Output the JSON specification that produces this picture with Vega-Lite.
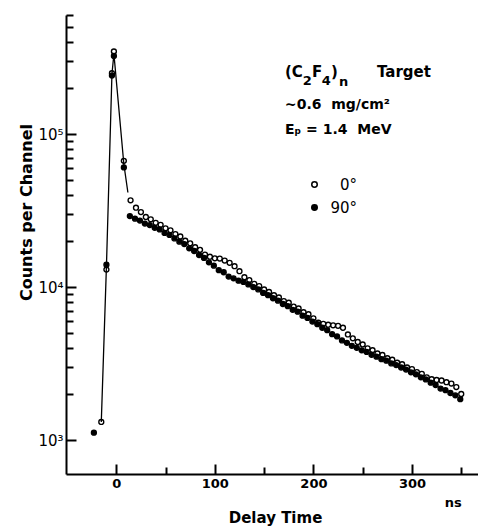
{
  "$schema": "https://vega.github.io/schema/vega-lite/v6.json",
  "width": 412,
  "height": 459,
  "autosize": {"type": "none"},
  "padding": {"left": 66, "top": 15, "right": 0, "bottom": 53},
  "background": "white",
  "config": {"view": {"stroke": null}, "font": "DejaVu Sans"},
  "datasets": {
    "peak": [
      {"t": -15.2, "counts": 1313},
      {"t": -10, "counts": 13500},
      {"t": -4.4, "counts": 245000},
      {"t": -2.4, "counts": 335000},
      {"t": 7.7, "counts": 63500},
      {"t": 11.8, "counts": 41500}
    ],
    "pts": [
      {"t": -15.2, "counts": 1313, "angle": "0°"},
      {"t": -10, "counts": 13000, "angle": "0°"},
      {"t": -4.4, "counts": 250000, "angle": "0°"},
      {"t": -2.4, "counts": 347000, "angle": "0°"},
      {"t": 7.7, "counts": 66800, "angle": "0°"},
      {"t": 14.5, "counts": 36900, "angle": "0°"},
      {"t": 20, "counts": 33000, "angle": "0°"},
      {"t": 25, "counts": 30900, "angle": "0°"},
      {"t": 30, "counts": 28700, "angle": "0°"},
      {"t": 35, "counts": 27700, "angle": "0°"},
      {"t": 40, "counts": 26300, "angle": "0°"},
      {"t": 45, "counts": 25500, "angle": "0°"},
      {"t": 50, "counts": 24200, "angle": "0°"},
      {"t": 55, "counts": 23500, "angle": "0°"},
      {"t": 60, "counts": 22200, "angle": "0°"},
      {"t": 65, "counts": 21400, "angle": "0°"},
      {"t": 70, "counts": 20100, "angle": "0°"},
      {"t": 75, "counts": 19300, "angle": "0°"},
      {"t": 80, "counts": 18200, "angle": "0°"},
      {"t": 85, "counts": 17500, "angle": "0°"},
      {"t": 90, "counts": 16300, "angle": "0°"},
      {"t": 95, "counts": 15800, "angle": "0°"},
      {"t": 100, "counts": 15400, "angle": "0°"},
      {"t": 105, "counts": 15350, "angle": "0°"},
      {"t": 110, "counts": 14900, "angle": "0°"},
      {"t": 115, "counts": 14400, "angle": "0°"},
      {"t": 120, "counts": 13700, "angle": "0°"},
      {"t": 125, "counts": 12700, "angle": "0°"},
      {"t": 130, "counts": 11600, "angle": "0°"},
      {"t": 135, "counts": 11100, "angle": "0°"},
      {"t": 140, "counts": 10500, "angle": "0°"},
      {"t": 145, "counts": 10150, "angle": "0°"},
      {"t": 150, "counts": 9650, "angle": "0°"},
      {"t": 155, "counts": 9300, "angle": "0°"},
      {"t": 160, "counts": 8850, "angle": "0°"},
      {"t": 165, "counts": 8550, "angle": "0°"},
      {"t": 170, "counts": 8100, "angle": "0°"},
      {"t": 175, "counts": 7900, "angle": "0°"},
      {"t": 180, "counts": 7450, "angle": "0°"},
      {"t": 185, "counts": 7250, "angle": "0°"},
      {"t": 190, "counts": 6850, "angle": "0°"},
      {"t": 195, "counts": 6650, "angle": "0°"},
      {"t": 200, "counts": 6250, "angle": "0°"},
      {"t": 205, "counts": 5850, "angle": "0°"},
      {"t": 210, "counts": 5750, "angle": "0°"},
      {"t": 215, "counts": 5680, "angle": "0°"},
      {"t": 220, "counts": 5620, "angle": "0°"},
      {"t": 225, "counts": 5580, "angle": "0°"},
      {"t": 230, "counts": 5420, "angle": "0°"},
      {"t": 235, "counts": 4900, "angle": "0°"},
      {"t": 240, "counts": 4620, "angle": "0°"},
      {"t": 245, "counts": 4380, "angle": "0°"},
      {"t": 250, "counts": 4220, "angle": "0°"},
      {"t": 255, "counts": 3980, "angle": "0°"},
      {"t": 260, "counts": 3870, "angle": "0°"},
      {"t": 265, "counts": 3680, "angle": "0°"},
      {"t": 270, "counts": 3600, "angle": "0°"},
      {"t": 275, "counts": 3430, "angle": "0°"},
      {"t": 280, "counts": 3350, "angle": "0°"},
      {"t": 285, "counts": 3200, "angle": "0°"},
      {"t": 290, "counts": 3130, "angle": "0°"},
      {"t": 295, "counts": 2980, "angle": "0°"},
      {"t": 300, "counts": 2910, "angle": "0°"},
      {"t": 305, "counts": 2780, "angle": "0°"},
      {"t": 310, "counts": 2710, "angle": "0°"},
      {"t": 315, "counts": 2570, "angle": "0°"},
      {"t": 320, "counts": 2500, "angle": "0°"},
      {"t": 325, "counts": 2470, "angle": "0°"},
      {"t": 330, "counts": 2450, "angle": "0°"},
      {"t": 335, "counts": 2390, "angle": "0°"},
      {"t": 340, "counts": 2340, "angle": "0°"},
      {"t": 345, "counts": 2220, "angle": "0°"},
      {"t": 350, "counts": 2000, "angle": "0°"},
      {"t": -22.7, "counts": 1117, "angle": "90°"},
      {"t": -10, "counts": 14000, "angle": "90°"},
      {"t": -4.4, "counts": 241000, "angle": "90°"},
      {"t": -2.4, "counts": 324000, "angle": "90°"},
      {"t": 7.7, "counts": 60500, "angle": "90°"},
      {"t": 13.8, "counts": 29100, "angle": "90°"},
      {"t": 19, "counts": 28000, "angle": "90°"},
      {"t": 24, "counts": 27200, "angle": "90°"},
      {"t": 29, "counts": 26000, "angle": "90°"},
      {"t": 34, "counts": 25400, "angle": "90°"},
      {"t": 39, "counts": 24400, "angle": "90°"},
      {"t": 44, "counts": 23800, "angle": "90°"},
      {"t": 49, "counts": 22600, "angle": "90°"},
      {"t": 54, "counts": 21900, "angle": "90°"},
      {"t": 59, "counts": 20800, "angle": "90°"},
      {"t": 64, "counts": 19800, "angle": "90°"},
      {"t": 69, "counts": 19100, "angle": "90°"},
      {"t": 74, "counts": 17900, "angle": "90°"},
      {"t": 79, "counts": 17200, "angle": "90°"},
      {"t": 84, "counts": 16200, "angle": "90°"},
      {"t": 89, "counts": 15500, "angle": "90°"},
      {"t": 94, "counts": 14500, "angle": "90°"},
      {"t": 99, "counts": 13800, "angle": "90°"},
      {"t": 104, "counts": 12900, "angle": "90°"},
      {"t": 109, "counts": 12500, "angle": "90°"},
      {"t": 114, "counts": 11700, "angle": "90°"},
      {"t": 119, "counts": 11400, "angle": "90°"},
      {"t": 124, "counts": 11000, "angle": "90°"},
      {"t": 129, "counts": 10800, "angle": "90°"},
      {"t": 134, "counts": 10400, "angle": "90°"},
      {"t": 139, "counts": 10000, "angle": "90°"},
      {"t": 144, "counts": 9650, "angle": "90°"},
      {"t": 149, "counts": 9150, "angle": "90°"},
      {"t": 154, "counts": 8850, "angle": "90°"},
      {"t": 159, "counts": 8450, "angle": "90°"},
      {"t": 164, "counts": 8150, "angle": "90°"},
      {"t": 169, "counts": 7750, "angle": "90°"},
      {"t": 174, "counts": 7500, "angle": "90°"},
      {"t": 179, "counts": 7100, "angle": "90°"},
      {"t": 184, "counts": 6900, "angle": "90°"},
      {"t": 189, "counts": 6500, "angle": "90°"},
      {"t": 194, "counts": 6280, "angle": "90°"},
      {"t": 199, "counts": 5950, "angle": "90°"},
      {"t": 204, "counts": 5720, "angle": "90°"},
      {"t": 209, "counts": 5420, "angle": "90°"},
      {"t": 214, "counts": 5230, "angle": "90°"},
      {"t": 219, "counts": 4920, "angle": "90°"},
      {"t": 224, "counts": 4760, "angle": "90°"},
      {"t": 229, "counts": 4480, "angle": "90°"},
      {"t": 234, "counts": 4320, "angle": "90°"},
      {"t": 239, "counts": 4130, "angle": "90°"},
      {"t": 244, "counts": 4010, "angle": "90°"},
      {"t": 249, "counts": 3860, "angle": "90°"},
      {"t": 254, "counts": 3770, "angle": "90°"},
      {"t": 259, "counts": 3610, "angle": "90°"},
      {"t": 264, "counts": 3510, "angle": "90°"},
      {"t": 269, "counts": 3380, "angle": "90°"},
      {"t": 274, "counts": 3300, "angle": "90°"},
      {"t": 279, "counts": 3170, "angle": "90°"},
      {"t": 284, "counts": 3090, "angle": "90°"},
      {"t": 289, "counts": 2980, "angle": "90°"},
      {"t": 294, "counts": 2890, "angle": "90°"},
      {"t": 299, "counts": 2770, "angle": "90°"},
      {"t": 304, "counts": 2690, "angle": "90°"},
      {"t": 309, "counts": 2570, "angle": "90°"},
      {"t": 314, "counts": 2490, "angle": "90°"},
      {"t": 319, "counts": 2370, "angle": "90°"},
      {"t": 324, "counts": 2290, "angle": "90°"},
      {"t": 329, "counts": 2170, "angle": "90°"},
      {"t": 334, "counts": 2120, "angle": "90°"},
      {"t": 339, "counts": 2030, "angle": "90°"},
      {"t": 344, "counts": 1960, "angle": "90°"},
      {"t": 349, "counts": 1850, "angle": "90°"}
    ],
    "titleMain": [
      {"t": 171.1, "counts": 236600, "label": "(C"},
      {"t": 198.5, "counts": 236600, "label": "F"},
      {"t": 217.8, "counts": 236600, "label": ")"},
      {"t": 264.5, "counts": 236600, "label": "Target"}
    ],
    "titleSub": [
      {"t": 189.3, "counts": 209600, "label": "2"},
      {"t": 208.6, "counts": 209600, "label": "4"},
      {"t": 226.0, "counts": 204800, "label": "n"}
    ],
    "notes": [
      {"t": 171.1, "counts": 145900, "label": "∼0.6\u00a0 mg/cm²"},
      {"t": 171.1, "counts": 100000, "label": "Eₚ = 1.4\u00a0 MeV"}
    ]
  },
  "layer": [
    {
      "data": {"name": "peak"},
      "mark": {"type": "line", "color": "black", "strokeWidth": 1.3},
      "encoding": {
        "x": {
          "field": "t", "type": "quantitative",
          "scale": {"domain": [-51, 367], "nice": false, "zero": false},
          "axis": {
            "values": [0, 50, 100, 150, 200, 250, 300, 350],
            "labelExpr": "datum.value % 100 == 0 ? datum.label : (datum.value == 350 ? 'ns' : '')",
            "tickSize": {"condition": {"test": "datum.value % 100 == 0", "value": -10}, "value": -7},
            "tickWidth": 2,
            "tickColor": "black",
            "domainColor": "black",
            "domainWidth": 2,
            "grid": false,
            "labelFontSize": 13,
            "labelFontWeight": "bold",
            "labelColor": "black",
            "labelPadding": {"condition": {"test": "datum.value == 350", "value": 29}, "value": 13},
            "labelAlign": {"condition": {"test": "datum.value == 350", "value": "right"}, "value": "center"},
            "title": "Delay Time",
            "titleFontSize": 15,
            "titleFontWeight": "bold",
            "titleColor": "black",
            "titleBaseline": "middle",
            "titleX": 209,
            "titleY": 43
          }
        },
        "y": {
          "field": "counts", "type": "quantitative",
          "scale": {"type": "log", "domain": [600, 600000], "nice": false},
          "axis": {
            "values": [1000, 2000, 3000, 4000, 5000, 6000, 7000, 8000, 9000, 10000, 20000, 30000, 40000, 50000, 60000, 70000, 80000, 90000, 100000, 200000, 300000, 400000, 500000, 600000],
            "labelExpr": "datum.value == 1000 ? '10³' : (datum.value == 10000 ? '10⁴' : (datum.value == 100000 ? '10⁵' : ''))",
            "tickSize": {"condition": {"test": "datum.value == 1000 || datum.value == 10000 || datum.value == 100000", "value": -10}, "value": -7},
            "tickWidth": 2,
            "tickColor": "black",
            "domainColor": "black",
            "domainWidth": 2,
            "grid": false,
            "labelFontSize": 15,
            "labelColor": "black",
            "labelPadding": 13,
            "title": "Counts  per  Channel",
            "titleFontSize": 16,
            "titleFontWeight": "bold",
            "titleColor": "black",
            "titleBaseline": "middle",
            "titleX": -40,
            "titleY": 197
          }
        }
      }
    },
    {
      "data": {"name": "pts"},
      "mark": {"type": "point", "filled": true, "stroke": "black", "strokeWidth": 1.4, "size": 24, "opacity": 1},
      "encoding": {
        "x": {"field": "t", "type": "quantitative", "scale": {"domain": [-51, 367], "nice": false, "zero": false}},
        "y": {"field": "counts", "type": "quantitative", "scale": {"type": "log", "domain": [600, 600000], "nice": false}},
        "fill": {
          "field": "angle", "type": "nominal",
          "scale": {"domain": ["0°", "90°"], "range": ["transparent", "black"]},
          "legend": {
            "title": null,
            "orient": "none",
            "legendX": 241,
            "legendY": 162,
            "symbolType": "circle",
            "symbolSize": 30,
            "symbolStrokeColor": "black",
            "symbolStrokeWidth": 1.5,
            "labelFontSize": 15,
            "labelColor": "black",
            "labelAlign": "right",
            "labelOffset": 35,
            "rowPadding": 7
          }
        }
      }
    },
    {
      "data": {"name": "titleMain"},
      "mark": {"type": "text", "align": "left", "baseline": "alphabetic", "fontSize": 15, "fontWeight": "bold", "color": "black"},
      "encoding": {
        "x": {"field": "t", "type": "quantitative", "scale": {"domain": [-51, 367], "nice": false, "zero": false}},
        "y": {"field": "counts", "type": "quantitative", "scale": {"type": "log", "domain": [600, 600000], "nice": false}},
        "text": {"field": "label"}
      }
    },
    {
      "data": {"name": "titleSub"},
      "mark": {"type": "text", "align": "left", "baseline": "alphabetic", "fontSize": 13, "fontWeight": "bold", "color": "black"},
      "encoding": {
        "x": {"field": "t", "type": "quantitative", "scale": {"domain": [-51, 367], "nice": false, "zero": false}},
        "y": {"field": "counts", "type": "quantitative", "scale": {"type": "log", "domain": [600, 600000], "nice": false}},
        "text": {"field": "label"}
      }
    },
    {
      "data": {"name": "notes"},
      "mark": {"type": "text", "align": "left", "baseline": "alphabetic", "fontSize": 14, "fontWeight": "bold", "color": "black"},
      "encoding": {
        "x": {"field": "t", "type": "quantitative", "scale": {"domain": [-51, 367], "nice": false, "zero": false}},
        "y": {"field": "counts", "type": "quantitative", "scale": {"type": "log", "domain": [600, 600000], "nice": false}},
        "text": {"field": "label"}
      }
    }
  ]
}
